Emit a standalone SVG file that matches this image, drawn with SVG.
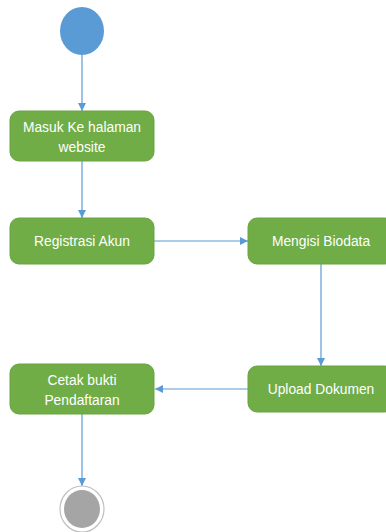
<svg xmlns="http://www.w3.org/2000/svg" width="386" height="532" viewBox="0 0 386 532">
<style>
.act{fill:#70AD47;stroke:#6aa342;stroke-width:1}
.lbl{font-family:"Liberation Sans",Arial,sans-serif;font-size:13.8px;fill:#ffffff;text-anchor:middle}
.con{stroke:#5B9BD5;stroke-width:1.2;fill:none}
</style>
<defs>
<marker id="ah" markerWidth="10" markerHeight="10" refX="8" refY="5" orient="auto" markerUnits="userSpaceOnUse">
<path d="M0,1 L8,5 L0,9 Z" fill="#5B9BD5"/>
</marker>
</defs>
<rect width="386" height="532" fill="#ffffff"/>
<g id="connectors">
<line class="con" x1="82" y1="55" x2="82" y2="111" marker-end="url(#ah)"/>
<line class="con" x1="82" y1="161" x2="82" y2="218" marker-end="url(#ah)"/>
<line class="con" x1="154" y1="241" x2="248" y2="241" marker-end="url(#ah)"/>
<line class="con" x1="321" y1="264" x2="321" y2="366" marker-end="url(#ah)"/>
<line class="con" x1="248" y1="389" x2="155" y2="389" marker-end="url(#ah)"/>
<line class="con" x1="82" y1="414" x2="82" y2="486" marker-end="url(#ah)"/>
</g>
<g id="start">
<ellipse cx="82" cy="31" rx="22" ry="24" fill="#5B9BD5"/>
</g>
<g id="masuk">
<rect class="act" x="10" y="111" width="144" height="50" rx="9"/>
<text class="lbl" x="82" y="132">Masuk Ke halaman</text>
<text class="lbl" x="82" y="152">website</text>
</g>
<g id="registrasi">
<rect class="act" x="10" y="218" width="144" height="46" rx="9"/>
<text class="lbl" x="82" y="246">Registrasi Akun</text>
</g>
<g id="biodata">
<rect class="act" x="248" y="218" width="146" height="46" rx="9"/>
<text class="lbl" x="321" y="246">Mengisi Biodata</text>
</g>
<g id="upload">
<rect class="act" x="248" y="366" width="146" height="46" rx="9"/>
<text class="lbl" x="321" y="394">Upload Dokumen</text>
</g>
<g id="cetak">
<rect class="act" x="10" y="364" width="144" height="50" rx="9"/>
<text class="lbl" x="82" y="385">Cetak bukti</text>
<text class="lbl" x="82" y="405">Pendaftaran</text>
</g>
<g id="end">
<ellipse cx="82" cy="509" rx="22" ry="23" fill="#ffffff" stroke="#bfbfbf" stroke-width="1.2"/>
<ellipse cx="82" cy="509" rx="18" ry="19" fill="#A5A5A5"/>
</g>
</svg>
